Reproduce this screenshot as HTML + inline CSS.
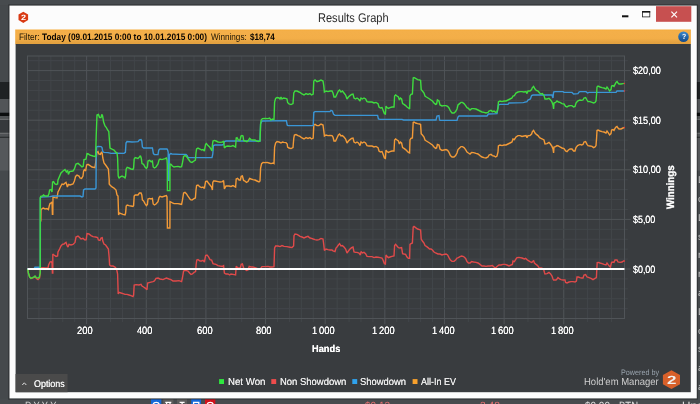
<!DOCTYPE html>
<html lang="en">
<head>
<meta charset="utf-8">
<title>Results Graph</title>
<style>
html,body{margin:0;padding:0;width:700px;height:404px;overflow:hidden;background:#45494c;}
#screen{position:relative;width:700px;height:404px;overflow:hidden;background:#45494c;font-family:"Liberation Sans",sans-serif;}
svg{position:absolute;left:0;top:0;overflow:hidden;}
.t{position:absolute;white-space:nowrap;line-height:1;transform-origin:0 0;text-rendering:geometricPrecision;}
#chart line,#chart rect{stroke-width:1;}
.c{fill:none;stroke-width:1.4;stroke-linejoin:miter;stroke-miterlimit:2;stroke-linecap:butt;}
</style>
</head>
<body>
<div id="screen">
<!-- desktop, window frame, filter bar, content background -->
<svg id="base" width="700" height="404" viewBox="0 0 700 404">
<defs>
<linearGradient id="og" x1="0" y1="0" x2="0" y2="1"><stop offset="0" stop-color="#f6ac3a"/><stop offset=".12" stop-color="#f4af49"/><stop offset=".6" stop-color="#f3ae48"/><stop offset=".86" stop-color="#e4a240"/><stop offset="1" stop-color="#e3a13f"/></linearGradient>
<linearGradient id="hg" x1="0" y1="0" x2="0" y2="1"><stop offset="0" stop-color="#3a88cc"/><stop offset="1" stop-color="#124a8a"/></linearGradient>
</defs>
<rect x="-5" y="-5" width="710" height="10.62" fill="#474b4e"/>
<rect x="-5" y="5.6" width="710" height="76.42" fill="#45494c"/>
<rect x="-5" y="82" width="710" height="17.02" fill="#1f2224"/>
<rect x="-5" y="99" width="710" height="13.77" fill="#525558"/>
<rect x="-5" y="112.75" width="710" height="3.27" fill="#0b0d0e"/>
<rect x="-5" y="116" width="710" height="2.77" fill="#4f5254"/>
<rect x="-5" y="118.75" width="710" height="1.27" fill="#6a6c6e"/>
<rect x="-5" y="120" width="710" height="12.77" fill="#36393c"/>
<rect x="-5" y="132.75" width="710" height="1.52" fill="#6a6c6e"/>
<rect x="-5" y="134.25" width="710" height="2.52" fill="#505356"/>
<rect x="-5" y="136.75" width="710" height="1.27" fill="#2e3133"/>
<rect x="-5" y="138" width="710" height="32.77" fill="#55585b"/>
<rect x="-5" y="170.75" width="710" height="227.67" fill="#45494c"/>
<rect x="-5" y="398.4" width="710" height="11.62" fill="#474b4e"/>
<rect x="151" y="399.2" width="10.3" height="8" fill="#1668d8"/>
<rect x="163.2" y="399.2" width="10.2" height="8" fill="#5c5c5c"/>
<rect x="177" y="399.2" width="10" height="8" fill="#5c5c5c"/>
<rect x="191.2" y="399.2" width="9.8" height="8" fill="#1668d8"/>
<rect x="205" y="399.2" width="10.3" height="8" fill="#d0121c"/>
<g fill="none" stroke="#fff" stroke-width="1.3"><circle cx="156.2" cy="405.6" r="3.2"/><path d="M165.3 402.4 H171.3 M166.6 402.4 V405 M170 402.4 V405"/><path d="M179.6 402.4 H184.6 M182.1 402.4 V405"/><rect x="193.6" y="402.4" width="5.2" height="5"/><circle cx="210.2" cy="405.6" r="3.2"/></g>
<rect x="9" y="5.1" width="688.25" height="393.8" fill="none" stroke="#000" stroke-opacity=".28" stroke-width="1.6"/>
<rect x="9.5" y="5.6" width="687.25" height="392.8" fill="#fcfcfc"/>
<rect x="15.2" y="29.5" width="675.7" height="14.8" fill="url(#og)"/>
<rect x="15.6" y="44" width="675.2" height="348.2" fill="#393c3f"/>
<rect x="15.6" y="374" width="52" height="18.2" fill="#4a4a4a"/>
<rect x="219.1" y="379.1" width="4.9" height="4.9" fill="#2fe83f"/>
<rect x="271.3" y="379.1" width="4.9" height="4.9" fill="#ee4c4c"/>
<rect x="352.3" y="379.1" width="4.9" height="4.9" fill="#2fa2ee"/>
<rect x="412.6" y="379.1" width="4.9" height="4.9" fill="#f8a02c"/>
<!-- app icon -->
<polygon points="23.3,11.8 28.1,14.5 28.1,20.1 23.3,22.9 18.5,20.1 18.5,14.5" fill="#d93a14"/>
<!-- window buttons -->
<rect x="656" y="6.2" width="35.3" height="15.6" fill="#c75050"/>
<path d="M671.4 11.7 L677 17.3 M677 11.7 L671.4 17.3" stroke="#fff" stroke-width="1.15" fill="none"/>
<rect x="642.5" y="11.6" width="7.3" height="5.3" fill="none" stroke="#222" stroke-width="0.8"/>
<rect x="642.1" y="11.1" width="8.1" height="1.5" fill="#111"/>
<rect x="622" y="15.3" width="6.4" height="2" fill="#111"/>
<!-- help icon -->
<circle cx="683.5" cy="36.7" r="5.3" fill="url(#hg)"/>
<!-- options chevron -->
<path d="M22.3 385 L24.3 382.8 L26.3 385" stroke="#ddd" stroke-width="1" fill="none"/>
<!-- HM logo -->
<polygon points="671.45,370.2 680,375 680,384.2 671.45,388.9 662.9,384.2 662.9,375" fill="#d8602a"/>
</svg>
<!-- chart: grid, series, zero line -->
<svg id="chart" width="700" height="404" viewBox="0 0 700 404">
<line x1="38.93" y1="56" x2="38.93" y2="322" stroke="#42464a"/>
<line x1="50.86" y1="56" x2="50.86" y2="322" stroke="#42464a"/>
<line x1="62.78" y1="56" x2="62.78" y2="322" stroke="#42464a"/>
<line x1="74.71" y1="56" x2="74.71" y2="322" stroke="#42464a"/>
<line x1="86.64" y1="56" x2="86.64" y2="324.2" stroke="#505458"/>
<line x1="98.57" y1="56" x2="98.57" y2="322" stroke="#42464a"/>
<line x1="110.50" y1="56" x2="110.50" y2="322" stroke="#42464a"/>
<line x1="122.42" y1="56" x2="122.42" y2="322" stroke="#42464a"/>
<line x1="134.35" y1="56" x2="134.35" y2="322" stroke="#42464a"/>
<line x1="146.28" y1="56" x2="146.28" y2="324.2" stroke="#505458"/>
<line x1="158.21" y1="56" x2="158.21" y2="322" stroke="#42464a"/>
<line x1="170.14" y1="56" x2="170.14" y2="322" stroke="#42464a"/>
<line x1="182.06" y1="56" x2="182.06" y2="322" stroke="#42464a"/>
<line x1="193.99" y1="56" x2="193.99" y2="322" stroke="#42464a"/>
<line x1="205.92" y1="56" x2="205.92" y2="324.2" stroke="#505458"/>
<line x1="217.85" y1="56" x2="217.85" y2="322" stroke="#42464a"/>
<line x1="229.78" y1="56" x2="229.78" y2="322" stroke="#42464a"/>
<line x1="241.70" y1="56" x2="241.70" y2="322" stroke="#42464a"/>
<line x1="253.63" y1="56" x2="253.63" y2="322" stroke="#42464a"/>
<line x1="265.56" y1="56" x2="265.56" y2="324.2" stroke="#505458"/>
<line x1="277.49" y1="56" x2="277.49" y2="322" stroke="#42464a"/>
<line x1="289.42" y1="56" x2="289.42" y2="322" stroke="#42464a"/>
<line x1="301.34" y1="56" x2="301.34" y2="322" stroke="#42464a"/>
<line x1="313.27" y1="56" x2="313.27" y2="322" stroke="#42464a"/>
<line x1="325.20" y1="56" x2="325.20" y2="324.2" stroke="#505458"/>
<line x1="337.13" y1="56" x2="337.13" y2="322" stroke="#42464a"/>
<line x1="349.06" y1="56" x2="349.06" y2="322" stroke="#42464a"/>
<line x1="360.98" y1="56" x2="360.98" y2="322" stroke="#42464a"/>
<line x1="372.91" y1="56" x2="372.91" y2="322" stroke="#42464a"/>
<line x1="384.84" y1="56" x2="384.84" y2="324.2" stroke="#505458"/>
<line x1="396.77" y1="56" x2="396.77" y2="322" stroke="#42464a"/>
<line x1="408.70" y1="56" x2="408.70" y2="322" stroke="#42464a"/>
<line x1="420.62" y1="56" x2="420.62" y2="322" stroke="#42464a"/>
<line x1="432.55" y1="56" x2="432.55" y2="322" stroke="#42464a"/>
<line x1="444.48" y1="56" x2="444.48" y2="324.2" stroke="#505458"/>
<line x1="456.41" y1="56" x2="456.41" y2="322" stroke="#42464a"/>
<line x1="468.34" y1="56" x2="468.34" y2="322" stroke="#42464a"/>
<line x1="480.26" y1="56" x2="480.26" y2="322" stroke="#42464a"/>
<line x1="492.19" y1="56" x2="492.19" y2="322" stroke="#42464a"/>
<line x1="504.12" y1="56" x2="504.12" y2="324.2" stroke="#505458"/>
<line x1="516.05" y1="56" x2="516.05" y2="322" stroke="#42464a"/>
<line x1="527.98" y1="56" x2="527.98" y2="322" stroke="#42464a"/>
<line x1="539.90" y1="56" x2="539.90" y2="322" stroke="#42464a"/>
<line x1="551.83" y1="56" x2="551.83" y2="322" stroke="#42464a"/>
<line x1="563.76" y1="56" x2="563.76" y2="324.2" stroke="#505458"/>
<line x1="575.69" y1="56" x2="575.69" y2="322" stroke="#42464a"/>
<line x1="587.62" y1="56" x2="587.62" y2="322" stroke="#42464a"/>
<line x1="599.54" y1="56" x2="599.54" y2="322" stroke="#42464a"/>
<line x1="611.47" y1="56" x2="611.47" y2="322" stroke="#42464a"/>
<line x1="27.5" y1="308.68" x2="627.8" y2="308.68" stroke="#42464a"/>
<line x1="27.5" y1="298.76" x2="627.8" y2="298.76" stroke="#42464a"/>
<line x1="27.5" y1="288.84" x2="627.8" y2="288.84" stroke="#42464a"/>
<line x1="27.5" y1="278.92" x2="627.8" y2="278.92" stroke="#42464a"/>
<line x1="27.5" y1="269.00" x2="630.8" y2="269.00" stroke="#505458"/>
<line x1="27.5" y1="259.08" x2="627.8" y2="259.08" stroke="#42464a"/>
<line x1="27.5" y1="249.16" x2="627.8" y2="249.16" stroke="#42464a"/>
<line x1="27.5" y1="239.24" x2="627.8" y2="239.24" stroke="#42464a"/>
<line x1="27.5" y1="229.32" x2="627.8" y2="229.32" stroke="#42464a"/>
<line x1="27.5" y1="219.40" x2="630.8" y2="219.40" stroke="#505458"/>
<line x1="27.5" y1="209.48" x2="627.8" y2="209.48" stroke="#42464a"/>
<line x1="27.5" y1="199.56" x2="627.8" y2="199.56" stroke="#42464a"/>
<line x1="27.5" y1="189.64" x2="627.8" y2="189.64" stroke="#42464a"/>
<line x1="27.5" y1="179.72" x2="627.8" y2="179.72" stroke="#42464a"/>
<line x1="27.5" y1="169.80" x2="630.8" y2="169.80" stroke="#505458"/>
<line x1="27.5" y1="159.88" x2="627.8" y2="159.88" stroke="#42464a"/>
<line x1="27.5" y1="149.96" x2="627.8" y2="149.96" stroke="#42464a"/>
<line x1="27.5" y1="140.04" x2="627.8" y2="140.04" stroke="#42464a"/>
<line x1="27.5" y1="130.12" x2="627.8" y2="130.12" stroke="#42464a"/>
<line x1="27.5" y1="120.20" x2="630.8" y2="120.20" stroke="#505458"/>
<line x1="27.5" y1="110.28" x2="627.8" y2="110.28" stroke="#42464a"/>
<line x1="27.5" y1="100.36" x2="627.8" y2="100.36" stroke="#42464a"/>
<line x1="27.5" y1="90.44" x2="627.8" y2="90.44" stroke="#42464a"/>
<line x1="27.5" y1="80.52" x2="627.8" y2="80.52" stroke="#42464a"/>
<line x1="27.5" y1="70.60" x2="630.8" y2="70.60" stroke="#505458"/>
<line x1="27.5" y1="60.68" x2="627.8" y2="60.68" stroke="#42464a"/>
<rect x="27.5" y="56" width="597" height="262.5" fill="none" stroke="#505458"/>
<polyline class="c" stroke="#e04a4a" points="27.6,268.8 28.4,273 29.6,277 31,278.4 32.4,278 34,277.4 35,276.4 36.4,278.4 38,279.6 39.6,278 40.2,273 40.4,268.8 41,268 43,267.6 45,268 48,268 48.6,265 50,262 51.2,261.6 52,263 52.4,273 52.8,273 52.8,254 54,255 56,256.4 57.6,256 58,252 59.6,249 61,246 62.4,244.4 64,244 65,243 66,242.4 67.2,246 68,247 69,244.4 71,245 73,244.4 75,242.4 76,237 78,236 79.6,237.6 81,239 83,238.4 85,240 86.2,239.6 87,233.6 89,234 91,235.6 93,236.6 95.6,237 97.6,237.6 98.4,240 100,240.4 101,238 102.2,237.6 102.8,241 104,244 105.6,245 107,247 108.4,249 109.2,258 109.6,265 111,266 113,266 115,267 116.6,269 117.6,274 118.2,294 119,292.4 121,293 123,293.6 125,294.4 127,294.4 129,295 131,295.6 133,296.6 133.6,295 134.2,285 136,284.6 139,285 141,284.4 142,286 143.6,287 145.6,288.4 147,289.6 147.6,283 150,282.4 153,281.6 154.4,281 156,278.4 158,278 160,279 163,279.6 165,278.6 166.4,278 169,279 171,279.6 173,281 176,281 179,280.6 181.6,281.6 182.4,278 183.6,271 185,270.4 186.4,270.6 188,271 189.6,273 191,274.4 192.4,274 194,272.4 195.6,271.6 196.2,264 196.8,260 198,259.6 200,261 201.6,261 203,260.4 204.4,262 205.6,255.6 207,255 208.4,256.6 210,259.6 211.6,260 213,263.6 214.4,264 216,264.4 218,265.6 220,266 222.4,266.4 223.6,265.6 224.4,273 226,274 228,274 229.6,275 231,274 233,274.4 235.6,275 236.2,266.4 237.6,267.6 239,268 240.4,267.6 241.2,264.4 242.4,264 243.6,268 245,269 246.4,270.4 248,270 249.2,266.4 251,267 253,267 255,267.6 257,268.4 259,269.6 261,268 262,266.6 265,266.6 268,266.4 270,267 272,267 274,266.6 274.6,248 275.6,246 278,246 280,246.6 282,245.6 284,246.4 287,246.6 290,247.2 292,247.6 293.6,246 294,235.6 295,234 297,234.4 299,235.6 300,236.4 302,237 304,238 306,237 308,236.4 310,238 311.6,238.4 313.2,239 315,239.6 317,240 319,239.6 321,238.4 323,239 323.8,245 324.4,250.4 326,249 328,249.6 330,250 332,250 333,251 335,251.6 336,248 337,247 338.4,245 339.6,243.6 341,246 342.4,245.6 344,247 345.6,249 347,253 348.4,251 350,249 351.6,247.6 353,247 354,252 355.6,252.4 357,252.4 359,253 360.4,255 361,251.6 362.4,253 364,252.4 365.6,253.6 367,256.4 369,256.6 372,256.6 374,257.6 376,257 378,257.2 380,257.6 382,258 383,260 384.4,263.6 385.4,264 386,255 387,256.4 388.4,257.6 390,257 392,256.4 394,256 394.6,245.6 395.6,244.4 397,246 398.4,247.6 400,248 401.6,247.6 402.6,253.6 404,254 405.6,254.4 407,257 408.4,258.4 409.6,258.4 410,244.4 411,243.6 412.4,243 413.2,227 414,226.4 415.6,227.6 417.6,229 419.6,229.6 420.6,230 421.2,239 422.4,241 424,243 425,245.6 426.4,246.4 428,247.6 429.6,249 431,249 432.4,250 434,252 435.6,253 438,254 440,254 442,255 444,254.4 446,254 447.6,255 449,257.6 450.4,260 452,261.4 454,261.4 455.6,260 457,258 458.4,257.6 460,256.6 461.6,256 463.6,256.6 465.6,258.4 467,261.6 468.4,263 470,263 471.6,261.6 473.6,262 476,262.4 478,263 480,264.4 482,266 484,266 486,266.4 488,266 490,266 492.4,265.6 494,267 495.6,268 497,266.4 499,265 501,265 503,264.4 505,264.4 507,265 509,266 511,265 512.4,264.4 513,261 514.4,261.6 516,259 517,257.6 519,257.4 520,257.6 522,258 524.4,259 525.6,258.4 527,259.6 528,260.4 530,261.6 531.6,262.4 532.4,262 533.6,260.4 534.4,263 536,264.4 537.6,265.6 539,267.6 541,268 542.4,268.4 543.6,269 544.4,272.4 545,274 547,273.6 549,272.4 550.4,273.6 552,276 553,279 553.6,280 556,280 557,279 558,277.6 559.6,279 561,279.6 563,280 565,280 565.6,282.4 567,283 569,282 571,281.6 573,281.6 575,282 576.4,281 577,277 578.4,277 580,277.6 581.6,278 583,278 584,275 585.6,274.6 587,277 589,277.6 591,278.4 593,279.6 595,278.4 596.4,277.6 596.8,270 597.2,262.6 598.4,262.4 600,263 602,263.6 604,264.4 606,265 607,263 608,264.4 609.6,266.4 610.4,267 611.6,262.4 613,262 614,262.4 615,260 617,260 618,262 620,262.4 622,262 623.6,261 624.4,261"/>
<polyline class="c" stroke="#f29a38" points="40.8,221.6 41,210 42.4,208.4 43.6,208 45,209 47,208.6 48.4,209.6 49.2,206 50,203.6 51.2,203 52,202 52.4,214.4 52.8,214.4 53,197 55,197.6 57,198 58,192 59,190 60.4,187 62,184 63.6,184.4 65,183 66,182.4 67.4,187 68.4,184.4 70,185 73,184 74.4,181 75.6,176.4 77,175 79,176 80,178 81.6,178.4 83,176 83.6,171 84.4,169.6 85.6,171 86.6,165 88,164.4 90,165.6 92,167 95,167.6 96,160 96.8,152.4 98,151.6 98.8,154 100.4,154.4 101.4,152.4 102.2,153 102.8,158 104,163 105.6,165 107,167 108.4,169 109.2,180 109.2,184 110,185 112,187 114,188 116,190 117,195 118,196 118.6,215 119.4,213 121,213.6 123,214.4 125,215 125.6,213 126.2,206 127.2,205 129,205.6 131,206 133,206.4 133.6,205.6 134.2,196 135.2,195 138,195 139.4,193 141,193 141.8,195 142.4,200 143.6,201 145,203.6 146.4,205.6 147.4,204.4 148,199 149.6,198.4 151,199 152.4,198.4 153.2,204 154.4,205 156,204 158,201.6 159,197.6 160,196.4 162,197 165,196 166.4,195.6 167,197 167.4,228 169.9,228 170,201.6 171,202 172.4,203 174,203.6 176,203.6 178,203.6 180,204 181.6,204.4 182.4,200.4 183.6,193 185,192.4 186.4,193.6 187.6,195.6 189,197.6 190.4,199.6 192,200 194,198.6 195.4,198 196,190 196.6,185.6 198,185 200,187 201.6,187.6 203,187 204.4,188.4 205.6,181.6 207,181 208.4,183 210,185 211.6,187 212.4,190 212.8,182.4 213.6,181 215,181 218,181.6 220,182 222.4,181.6 223.6,180.6 224.4,189 226,186 229,186 231,186.4 233,185.6 235.6,187 236.2,179 237.6,178.4 239,180 240.4,180 241.2,176.4 242.4,176 243.6,180.4 245,181 246.4,182.4 248,181.6 249.6,178.4 251,179 253,179.6 255,180 257,181 259,182 260,181 260.6,168 261.6,163.6 263,162.4 265,162.6 267,162.4 269,163 271,163.6 273,163 274,163.6 274.6,147 275.6,143 277,141.6 279,142 281,143 282.4,142 284,142.4 286,142.6 287.2,144 287.6,147 289,148 291,148.6 293,147.6 293.8,138 294.4,135 296,134.6 298,135.6 300,136.4 302,138 304,139 306,137.6 308,138.4 310,137.6 311.6,139 313.2,138 313.8,125 315,124.4 317,125.6 319,125.6 321,124 323,125 323.8,131 324.4,136 326,135 328,135.6 330,135.4 332,135.6 333,137 334,141 335.6,141 337,138 338.4,135 339.6,134 341,136 342.4,135.6 344,137 345.6,139 347,143 348.4,141 350,139.6 351.6,138.4 353,138 354,142 355.6,143 357,142 358.4,143 360,145.6 361,142 362.4,143 364,142 365.6,143 367,145.6 369,146 372,146 374,147 376,146.4 378,147.6 379,151 380.4,152 382,151.6 383,154 384.4,158 385.4,158.4 386,150 387,151.6 388.4,152.4 390,151.6 392,151 394,151 394.6,140 395.6,139 397,140 398.4,141 399.4,144 400.4,142 401.6,143 402.6,147.6 404,148.4 405.6,149.6 407,151 408.4,152.4 409.6,153 410,140 411,138.4 412.4,138 413.2,122.4 414,122 415.6,123 417.6,123.6 419.6,124 420.6,124.4 421.2,133.6 422.4,135 424,137 425,140 426.4,141 428,142 429.6,143 431,144 432.4,145 434,147 435.6,148.4 436.6,148 437.4,144.4 439,145 440,149 442,150.4 444,150 446,149.6 447.6,150.4 449,152.4 450.4,155.6 452,157 454,157 455.6,155.6 457,153 458,149.6 459.6,148 461,146.6 462.4,146.6 464,147.6 465.6,149.6 467,152 468.4,153 470,154 471.6,152.4 473.6,152.6 476,153.4 478,154 480,155.6 482,157 484,157.6 486,158 488,157 489,155 491,154.4 492.4,155.6 494,156 495.6,157 497,156 498,152 498.4,146 500,145 502,145.6 504,145 506,145 508,144 510,143 512,142 513,139 514.4,139.6 516,137 518,135.6 520,135.6 522,136.4 524,136 526,135.6 527,137.6 528,135.6 530,135.6 531.6,134 532.4,131.6 533.6,130.4 535,133 536.4,134.4 538,135.6 539.6,137.6 541,138.4 542.4,139 544,140 545,144 547,143.6 549,142.4 550.4,144 552,146.4 553,149 553.6,153 554,147 555.6,146.6 557,145.6 558.4,146 560,147 562,148 564,148.6 565.6,151 567,151.6 568.4,150 570,149 572,149 573.6,151 575,151 576,147.6 577.6,145.6 579,145 580,144.4 581.6,145 583,144.4 584,142 585.6,141.6 587,144.4 588,145.6 590,146 592,146.4 593.6,147.6 595,147 596,145.6 596.6,138 597,130.4 598,130 600,131 602,131.6 604,132 606,133 607,131 608,132.4 609.6,135 611,133.6 611.6,130 613,129.6 614,130.4 615,128.4 616,127 617,126.4 618,128 619,129 621,129 623,128 624.4,127.4"/>
<polyline class="c" stroke="#3a96d6" points="27.5,268.8 34,268.8 35,267.3 39,267.3 40.3,268.8 40.4,198 40.8,197 50,196.6 53,196 60,196 80,196 82,197 83,196.6 83.6,190 85,189 95,189 96,188 96.2,160 96.6,147 98,146.4 101,146.6 102,147.6 102.8,151.6 104,152.4 108,152.6 111,153.4 116,153.2 124,153.4 125.4,152.4 126,143 127,141.6 132,142 138,141.6 139.4,140 141,139.6 141.8,141 142.4,147 143.6,148 148,148 152.4,148 153.4,153.6 154.4,154.6 158,154.6 158.8,150 160,149 167,149 167.6,150 168.2,152 168.3,180.4 169.2,180.4 169.3,155 170,154 170.8,153.6 172,154 180,154.4 186,154.4 187.2,155.6 188,157.6 212,157.6 212.8,154 213.4,145.6 215,145 222,145 223.6,144.4 224.4,141.6 226,141 260,141 260.6,124 262,121 286.4,120.6 287.2,125 288,125.6 300,125.6 313.2,125.6 313.8,112.4 315,111.6 330,111.6 331,110.4 332.4,111 333.6,114.4 335,115.4 377.6,115.4 378.4,119 380,119.4 402,119.4 403.6,120 436,120 437,116 439,115.6 439.6,120 440,120.4 457,120.4 458,117 459,116 487,116 488.4,114 497,113.6 498.4,105 500,104.4 508,104.4 509,103 523,102.6 524,102.4 527,101.6 528,100 530.4,99 531.6,95.6 533,95 545,95 552,95 553,98 553.6,92 555,91.6 563,91.6 564,92.4 572,92.4 573.6,94 578,93.6 579,92 580,91.6 586,91.6 587.6,93 589,92.4 616,92.4 617,91 624.4,91"/>
<polyline class="c" stroke="#3fdc3f" points="27.6,268.8 28.4,273 29.6,277 31,278.4 32.4,277.6 34,277 35,276 36.4,277.6 38,278 39.4,277 40.2,273 40.2,268.8 40.2,198 40.8,196.4 42.4,196 43.6,195 45,196 48,196 49,193.6 49.6,190 51,189.6 52,192 52.6,182 53.6,181.6 55,184 56.4,184.4 57.6,184 58,180 58,180 61,173 63,171 65,169.6 66.4,172 67.6,170.4 68.4,174.4 69.6,171.6 73,171 74.4,169 76,164 78,163.4 80,165 82,167 83.2,166.4 84,159.6 86,159.2 87,153.6 88.4,154 90,155.2 93,156 95.6,156.6 96.2,136 97,115 98.4,114.4 99.6,117.6 101,117.6 101.8,114.4 102.6,116 103.6,122 105,126 106.4,127.6 107.6,130 108.8,131.6 109.4,140 110,148 112,149.2 114,150 116,152.4 117,153 117.6,158 118.2,176 119,178.4 120,177 122,176 124,177 125,178 125.6,176 126.2,169 127.2,167.4 129,168 131,169 133,169.4 133.6,168 134.2,159 135.2,157.6 138,158.4 139.4,157 140.4,155.6 141.2,158 142,163.6 143.6,164.4 145,167 146.4,168.4 147.4,167 148,161 149.6,160.4 151,161.6 152.4,161 153.2,167 154.4,168 156,167 158,164 159,160 160,159 162,159.6 165,158.6 166.4,158 167,160 167.3,165 167.4,190.6 169.9,190.6 170,165 170,164 171,164.4 172.4,166 174,167 176,166.6 178,166.4 180,167 181.6,166.6 182.4,163 183.6,156.4 185,155.6 186.4,156.4 187.6,158 189,160 190.4,162 192,162.4 194,161 195.4,160 196,153 196.6,149 198,148 200,149 201.6,150 203,149.6 204.4,151 205.6,144.4 206.4,143.6 208,145.6 209.6,147 211,149 212,151 212.4,145 213,141 214.4,140.4 216,141 218,142 220,142.4 222.4,142 223.6,141 224.4,148 226,146.4 228,146 231,146.4 233,145.6 235.6,147 236.2,138 237,137.6 238.4,140 240,140.4 241,136 242,135.6 243,136 243.6,140.4 245,141 247,141.6 248.4,140.4 249.6,138.4 251,139.6 253,140 255,140 256.6,141 258.4,141.6 260,141 260.6,124 261.2,120 262.4,118.6 265,118.4 268,118.6 269.6,118 271,120 272.4,119 274,119.6 274.6,102 275.6,98.4 277,97.6 279,98 280,99 281,97 282,99 283.6,98 285.6,98.4 287,99 287.6,102.4 289,104 291,104.6 293,103.6 293.8,93 295,91 297,91 299,92 300,92.4 302,94 304,95 306,93.6 308,94.4 310,93.6 311.6,95 313.2,94 313.8,81 315,80 317,81.6 319,81 321,80 323,81 323.8,86 324.4,92 326,91 328,91.6 330,91 332,91 333,93 334,97 335.6,97 337,94 338.4,91 339.6,90 341,92 342.4,91 344,93 345.6,95 347,99 348.4,97 350,95.6 351.6,94.4 353,94 354,98 355.6,99 357,98 358.4,99 360,101 361,98 362.4,99 364,98 365.6,99 367,101.6 369,102 372,102 374,103 376,102.4 378,103.6 379,107 380.4,108 382,107.6 383,110 384.4,113.6 385.4,114 386,106 387,107.6 388.4,108.4 390,107.6 392,107 394,107 394.6,96 395.6,95 397,96 398.4,97 399.4,100 400.4,98 401.6,99 402.6,103.6 404,104.4 405.6,105.6 407,107 408.4,108 409.6,109 410,96 411,94.4 412.4,94 413.2,78 414,77.6 415.6,78.4 417.6,79.6 419.6,80 420.6,80.4 421.2,89.6 422.4,91 424,93 425,96 426.4,97 428,98 429.6,99 431,100 432.4,101 434,103 435.6,104.4 436.6,104 437.4,100 439,101 440,105 442,106 444,105.6 446,105.6 447.6,106.4 449,108 450.4,111 452,113 454,113 455.6,111.6 457,109 458,105 459.6,103.6 461,102.4 462.4,102.4 464,103.6 465.6,105.6 467,107.6 468.4,108.4 470,110 471.6,108.6 473.6,108.6 476,109 478,110 480,111 482,112 484,112.4 486,113 488,112.4 489,111 491,110.4 492.4,111.6 494,111 495.6,112.4 497,112 498,108 498.4,102 500,101 502,101.6 504,101 506,101 508,100 510,99 512,98 513,96 514.4,95.6 516,93 518,92 520,91.6 522,91.6 524,92 526,91.6 527,93.6 528,91 530,91 531.6,89.6 532.4,87.6 533.6,86.4 535,89 536.4,90.4 538,91 539.6,93 541,94 542.4,93.6 544,95.6 545,99 547,99 549,98.4 550.4,99.6 552,102 553,105 553.6,109 554,103 555.6,102.4 557,101 558.4,102 560,102.4 562,103.6 564,104 565.6,106.4 567,107 568.4,106 570,105.6 572,105.6 573.6,107 575,106.4 576,103 577.6,101 579,100.4 580,100 581.6,100.4 583,100 584,98 585.6,97.6 587,100 588,101.6 590,101.6 592,102.4 593.6,103 595,102.4 596,101 596.6,94 597,87 598,86 600,87 602,87.6 604,88 606,89 607,87 608,88.4 609.6,91 611,89.6 611.6,86 613,85.6 614,86.4 615,84.4 616,82.4 617,81.6 618,83 619,84 621,84 623,83.6 624.4,83.4"/>
<circle cx="624.4" cy="83.4" r="0.75" fill="#e03838"/>
<circle cx="624.4" cy="91" r="0.75" fill="#e03838"/>
<circle cx="624.4" cy="127.4" r="0.75" fill="#e03838"/>
<circle cx="624.4" cy="261" r="0.75" fill="#e03838"/>
<line x1="27.5" y1="268.95" x2="624.5" y2="268.95" stroke="#ffffff" style="stroke-width:2"/>
</svg>
<!-- all text -->
<div class="t" style="left:317.84px;top:12.00px;font-size:12.61px;color:#2a2a2a;transform:scaleX(0.8762);">Results Graph</div>
<div class="t" style="left:18.72px;top:32.00px;font-size:9.42px;color:#1c1404;transform:scaleX(0.8759);">Filter:</div>
<div class="t" style="left:41.91px;top:33.00px;font-size:9.29px;font-weight:bold;color:#0a0602;transform:scaleX(0.8939);">Today (09.01.2015 0:00 to 10.01.2015 0:00)</div>
<div class="t" style="left:210.97px;top:32.00px;font-size:9.42px;color:#1c1404;transform:scaleX(0.8649);">Winnings:</div>
<div class="t" style="left:249.89px;top:33.00px;font-size:9.29px;font-weight:bold;color:#0a0602;transform:scaleX(0.8711);">$18,74</div>
<div class="t" style="left:632.71px;top:66.00px;font-size:10.58px;color:#fff;transform:scaleX(0.8604);text-shadow:0 0 0.5px currentColor;">$20,00</div>
<div class="t" style="left:632.71px;top:116.00px;font-size:10.58px;color:#fff;transform:scaleX(0.8604);text-shadow:0 0 0.5px currentColor;">$15,00</div>
<div class="t" style="left:632.71px;top:165.00px;font-size:10.58px;color:#fff;transform:scaleX(0.8604);text-shadow:0 0 0.5px currentColor;">$10,00</div>
<div class="t" style="left:632.71px;top:215.00px;font-size:10.58px;color:#fff;transform:scaleX(0.8396);text-shadow:0 0 0.5px currentColor;">$5,00</div>
<div class="t" style="left:632.71px;top:265.00px;font-size:10.58px;color:#fff;transform:scaleX(0.8396);text-shadow:0 0 0.5px currentColor;">$0,00</div>
<div class="t" style="left:77.47px;top:326.00px;font-size:10.58px;color:#fff;transform:scaleX(0.8854);text-shadow:0 0 0.5px currentColor;">200</div>
<div class="t" style="left:137.38px;top:326.00px;font-size:10.58px;color:#fff;transform:scaleX(0.8699);text-shadow:0 0 0.5px currentColor;">400</div>
<div class="t" style="left:196.75px;top:326.00px;font-size:10.58px;color:#fff;transform:scaleX(0.8854);text-shadow:0 0 0.5px currentColor;">600</div>
<div class="t" style="left:256.46px;top:326.00px;font-size:10.58px;color:#fff;transform:scaleX(0.8815);text-shadow:0 0 0.5px currentColor;">800</div>
<div class="t" style="left:312.39px;top:326.00px;font-size:10.58px;color:#fff;transform:scaleX(0.8865);text-shadow:0 0 0.5px currentColor;word-spacing:-0.9px;">1 000</div>
<div class="t" style="left:372.03px;top:326.00px;font-size:10.58px;color:#fff;transform:scaleX(0.8865);text-shadow:0 0 0.5px currentColor;word-spacing:-0.9px;">1 200</div>
<div class="t" style="left:431.67px;top:326.00px;font-size:10.58px;color:#fff;transform:scaleX(0.8865);text-shadow:0 0 0.5px currentColor;word-spacing:-0.9px;">1 400</div>
<div class="t" style="left:491.31px;top:326.00px;font-size:10.58px;color:#fff;transform:scaleX(0.8865);text-shadow:0 0 0.5px currentColor;word-spacing:-0.9px;">1 600</div>
<div class="t" style="left:550.95px;top:326.00px;font-size:10.58px;color:#fff;transform:scaleX(0.8865);text-shadow:0 0 0.5px currentColor;word-spacing:-0.9px;">1 800</div>
<div class="t" style="left:311.59px;top:345.00px;font-size:10.00px;font-weight:bold;color:#fff;transform:scaleX(0.9254);text-shadow:0 0 0.5px currentColor;">Hands</div>
<div class="t" style="left:33.78px;top:380.00px;font-size:9.86px;color:#f4f4f4;transform:scaleX(0.9047);text-shadow:0 0 0.5px currentColor;">Options</div>
<div class="t" style="left:227.61px;top:378.00px;font-size:10.14px;color:#ececec;transform:scaleX(0.9555);text-shadow:0 0 0.5px currentColor;">Net Won</div>
<div class="t" style="left:279.62px;top:378.00px;font-size:10.14px;color:#ececec;transform:scaleX(0.9347);text-shadow:0 0 0.5px currentColor;">Non Showdown</div>
<div class="t" style="left:360.08px;top:378.00px;font-size:10.14px;color:#ececec;transform:scaleX(0.9299);text-shadow:0 0 0.5px currentColor;">Showdown</div>
<div class="t" style="left:421.38px;top:378.00px;font-size:10.14px;color:#ececec;transform:scaleX(0.8887);text-shadow:0 0 0.5px currentColor;">All-In EV</div>
<div class="t" style="left:620.51px;top:369.00px;font-size:7.83px;color:#98a2ac;transform:scaleX(0.9215);">Powered by</div>
<div class="t" style="left:584.02px;top:378.00px;font-size:10.29px;color:#cfcfcf;transform:scaleX(0.9239);">Hold'em Manager</div>
<div class="t" style="left:20.79px;top:14.00px;font-size:7.57px;font-weight:bold;color:#fff;transform:scaleX(1.2034);">2</div>
<div class="t" style="left:681.59px;top:33.00px;font-size:7.57px;font-weight:bold;color:#fff;transform:scaleX(0.9084);">?</div>
<div class="t" style="left:666.62px;top:374.00px;font-size:12.00px;font-weight:bold;color:#f0f0f0;transform:scaleX(1.4148);">2</div>
<div class="t" style="left:24.74px;top:402.00px;font-size:10.43px;color:#d8d8d8;transform:scaleX(0.8891);">P Y Y Y</div>
<div class="t" style="left:365.40px;top:402.00px;font-size:10.43px;color:#e87070;transform:scaleX(0.9619);">$0.12</div>
<div class="t" style="left:480.49px;top:402.00px;font-size:10.43px;color:#e87070;transform:scaleX(0.9831);">2.48</div>
<div class="t" style="left:585.40px;top:402.00px;font-size:10.43px;color:#e0e0e0;transform:scaleX(0.9572);">$0.00</div>
<div class="t" style="left:619.22px;top:402.00px;font-size:10.43px;color:#e0e0e0;transform:scaleX(0.9134);">BTN</div>
<div class="t" style="left:681.60px;top:402.00px;font-size:10.43px;color:#e0e0e0;transform:scaleX(1.1162);">Unc</div>
<div class="t" style="left:698px;top:176px;font-size:10px;color:#c4c4c4;">D</div>
<div class="t" style="left:698px;top:195px;font-size:10px;color:#c4c4c4;">o</div>
<div class="t" style="left:698px;top:214px;font-size:10px;color:#c4c4c4;">D</div>
<div class="t" style="left:698px;top:233px;font-size:10px;color:#c4c4c4;">s</div>
<div class="t" style="left:698px;top:251px;font-size:10px;color:#c4c4c4;">r</div>
<div class="t" style="left:698px;top:270px;font-size:10px;color:#c4c4c4;">r</div>
<div class="t" style="left:698px;top:289px;font-size:10px;color:#c4c4c4;">a</div>
<div class="t" style="left:698px;top:308px;font-size:10px;color:#c4c4c4;">D</div>
<div class="t" style="left:698px;top:327px;font-size:10px;color:#c4c4c4;">o</div>
<div class="t" style="left:698px;top:345px;font-size:10px;color:#c4c4c4;">s</div>
<div class="t" style="left:698px;top:364px;font-size:10px;color:#c4c4c4;">a</div>
<div class="t" style="left:698px;top:383px;font-size:10px;color:#c4c4c4;">a</div>
<div class="t" style="left:666.43px;top:209.21px;font-size:10.71px;font-weight:bold;color:#fff;transform:rotate(-90deg) scaleX(0.9063);-webkit-text-stroke:0.3px #fff;">Winnings</div>
</div>
</body>
</html>
